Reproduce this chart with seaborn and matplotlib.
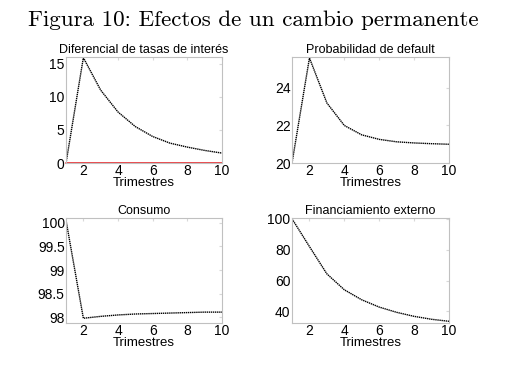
import numpy as np
import pandas as pd
import matplotlib
matplotlib.use("Agg")
import matplotlib.pyplot as plt
import seaborn as sns

trimestres = list(range(1, 11))

diferencial = [0.0, 15.9, 11.0, 7.7, 5.5, 4.0, 3.0, 2.4, 1.9, 1.5]
prob_default = [20.0, 25.6, 23.2, 22.0, 21.5, 21.26, 21.13, 21.07, 21.03, 21.0]
consumo = [100.05, 97.98, 98.02, 98.05, 98.07, 98.08, 98.09, 98.10, 98.11, 98.11]
financiamiento = [100.0, 82.0, 64.3, 54.0, 47.5, 42.8, 39.4, 36.8, 34.9, 33.6]

titles = ['Diferencial de tasas de interés', 'Probabilidad de default',
          'Consumo', 'Financiamiento externo']
series = [diferencial, prob_default, consumo, financiamiento]
ylims = [(0, 16.0), (20, 25.65), (97.88, 100.1), (32.5, 100.5)]
yticks = [[0, 5, 10, 15], [20, 22, 24], [98, 98.5, 99, 99.5, 100], [40, 60, 80, 100]]
yticklabels = [['0', '5', '10', '15'], ['20', '22', '24'],
               ['98', '98.5', '99', '99.5', '100'], ['40', '60', '80', '100']]

sns.set_style('white')
plt.rcParams['font.family'] = ['Liberation Sans', 'DejaVu Sans']
plt.rcParams['text.color'] = 'black'
plt.rcParams['axes.labelcolor'] = 'black'
plt.rcParams['xtick.labelcolor'] = 'black'
plt.rcParams['ytick.labelcolor'] = 'black'

fig = plt.figure(figsize=(5.17, 3.71), dpi=100)

positions = [
    [0.1277, 0.5606, 0.3017, 0.2857],
    [0.5648, 0.5606, 0.3037, 0.2857],
    [0.1277, 0.1294, 0.3017, 0.283],
    [0.5648, 0.1294, 0.3037, 0.283],
]

for i in range(4):
    ax = fig.add_axes(positions[i])
    df = pd.DataFrame({'t': trimestres, 'v': series[i]})
    if i == 0:
        zero = pd.DataFrame({'t': trimestres, 'v': [0.0] * len(trimestres)})
        sns.lineplot(data=zero, x='t', y='v', ax=ax, color='#e8383c', linewidth=1.3)
        ax.lines[-1].set_clip_on(False)
    sns.lineplot(data=df, x='t', y='v', ax=ax, color='black',
                 linestyle=(0, (1.0, 0.5)), linewidth=1.0)
    ax.set_xlim(1, 10)
    ax.set_ylim(*ylims[i])
    ax.set_xticks([2, 4, 6, 8, 10])
    ax.set_yticks(yticks[i])
    ax.set_yticklabels(yticklabels[i])
    ax.set_title(titles[i], fontsize=9, pad=3, color='black')
    ax.set_xlabel('Trimestres', fontsize=9.5, labelpad=-1)
    ax.set_ylabel('')
    ax.tick_params(axis='both', labelsize=10, direction='in', length=2,
                   color='#d8d8d8', pad=1, top=True, right=True)
    for sp in ax.spines.values():
        sp.set_color('#c0c0c0')
        sp.set_linewidth(0.8)

fig.text(0.49, 0.945, 'Figura 10: Efectos de un cambio permanente',
         family='cmr10', fontsize=16.6, ha='center', va='center')

fig.savefig('out.png', dpi=100)
